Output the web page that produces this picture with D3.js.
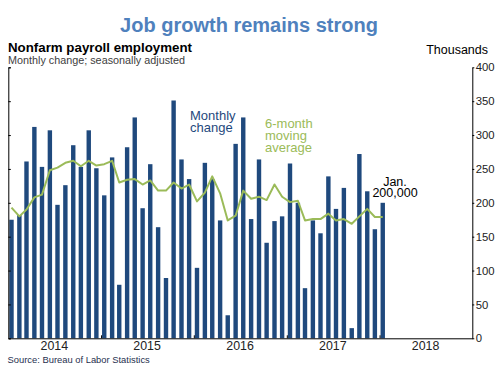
<!DOCTYPE html>
<html>

<head>
	<meta charset='utf-8' />
	<title></title>
	<script src="https://d3js.org/d3.v7.min.js"></script>
	<style>
		body {
			margin: 0;
			background: white;
		}

		svg {
			display: block;
			font-family: "Liberation Sans", Arial, sans-serif;
		}
	</style>
</head>

<body>

	<svg id="chart" width="500" height="365"></svg>

	<script>
		// monthly change in nonfarm payrolls, thousands, Jan 2014 - Jan 2018
		var payrolls = [175, 182, 261, 312, 253, 307, 197, 226, 285, 253, 307, 251,
			211, 267, 79, 282, 326, 192, 257, 164, 89, 351, 264, 235,
			104, 259, 235, 174, 34, 287, 326, 176, 264, 141, 173, 180,
			258, 200, 74, 174, 155, 239, 191, 222, 15, 272, 217, 161,
			200]

		// 6-month moving average
		var movingAvg = [193, 180, 190, 208, 212, 248, 252, 259, 262, 254, 262, 255,
			257, 262, 230, 234, 235, 227, 233, 218, 218, 230, 221, 227,
			202, 215, 239, 214, 174, 181, 218, 206, 209, 204, 227, 209,
			201, 203, 174, 176, 176, 184, 174, 176, 169, 180, 191, 179,
			179]

		var months = d3.timeMonth.range(new Date(2014, 0, 1), new Date(2018, 1, 1))
		var years = [2014, 2015, 2016, 2017, 2018]
		var yTicks = [0, 50, 100, 150, 200, 250, 300, 350, 400]

		var svg = d3.select("#chart"),
			margin = { top: 67.3, left: 8.3, bottom: 26.7, right: 27.7 },
			width = +svg.attr("width"),
			height = +svg.attr("height");

		var x = d3.scaleTime()
			.domain([new Date(2014, 0, 1), new Date(2019, 0, 1)])
			.range([margin.left, width - margin.right])

		var y = d3.scaleLinear()
			.domain([0, 400])
			.range([height - margin.bottom, margin.top])

		var barW = 4.4

		// bars
		svg.append("g")
			.attr("fill", "#1f497d")
			.selectAll("rect")
			.data(payrolls)
			.enter().append("rect")
			.attr("x", (d, i) => x(months[i]) + 1)
			.attr("width", barW)
			.attr("y", d => y(d))
			.attr("height", d => y(0) - y(d))

		// moving average line
		var line = d3.line()
			.x((d, i) => x(months[i]) + 1 + barW / 2)
			.y(d => y(d))

		svg.append("path")
			.datum(movingAvg)
			.attr("fill", "none")
			.attr("stroke", "#9bbb59")
			.attr("stroke-width", 2)
			.attr("stroke-linejoin", "round")
			.attr("d", line)

		// left axis: inward ticks, no labels
		svg.append("g")
			.attr("transform", `translate(${margin.left},0)`)
			.call(d3.axisRight(y).tickValues(yTicks).tickSize(2.5).tickFormat("").tickSizeOuter(2.5))
			.call(g => g.selectAll("path, line").attr("stroke", "#000"))

		// right axis with labels
		var yAxis = svg.append("g")
			.attr("transform", `translate(${width - margin.right},0)`)
			.call(d3.axisRight(y).tickValues(yTicks).tickSize(2).tickPadding(1.5).tickSizeOuter(0))

		yAxis.selectAll("path, line").attr("stroke", "#000")
		yAxis.selectAll("text")
			.attr("font-family", "Liberation Sans, Arial, sans-serif")
			.attr("font-size", 11.3)
			.attr("fill", "#222")

		// bottom axis: ticks at year starts pointing up
		var xAxis = svg.append("g")
			.attr("transform", `translate(0,${y(0)})`)
			.call(d3.axisTop(x).tickValues(years.slice(1).map(yr => new Date(yr, 0, 1)))
				.tickSize(3).tickFormat("").tickSizeOuter(0))
		xAxis.selectAll("path, line").attr("stroke", "#000")

		// year labels centred in each year
		svg.append("g")
			.selectAll("text")
			.data(years)
			.enter().append("text")
			.attr("x", d => x(new Date(d, 6, 1)))
			.attr("y", 350)
			.attr("text-anchor", "middle")
			.attr("font-size", 12.4)
			.attr("fill", "#222")
			.text(d => d)

		// titles
		svg.append("text")
			.attr("x", 249).attr("y", 31.5)
			.attr("text-anchor", "middle")
			.attr("font-size", 20)
			.attr("font-weight", "bold")
			.attr("fill", "#4f81bd")
			.text("Job growth remains strong")

		svg.append("text")
			.attr("x", 8).attr("y", 51.5)
			.attr("font-size", 13.3)
			.attr("font-weight", "bold")
			.attr("fill", "#000")
			.text("Nonfarm payroll employment")

		svg.append("text")
			.attr("x", 8).attr("y", 64)
			.attr("font-size", 10.8)
			.attr("fill", "#404040")
			.text("Monthly change; seasonally adjusted")

		svg.append("text")
			.attr("x", 488).attr("y", 53.5)
			.attr("text-anchor", "end")
			.attr("font-size", 12.5)
			.attr("fill", "#000")
			.text("Thousands")

		// annotations
		var ann1 = svg.append("text")
			.attr("font-size", 13)
			.attr("fill", "#1f497d")
		ann1.append("tspan").attr("x", 190).attr("y", 119.5).text("Monthly")
		ann1.append("tspan").attr("x", 190).attr("y", 131.5).text("change")

		var ann2 = svg.append("text")
			.attr("font-size", 13)
			.attr("fill", "#9bbb59")
		ann2.append("tspan").attr("x", 265).attr("y", 127.5).text("6-month")
		ann2.append("tspan").attr("x", 265).attr("y", 139.5).text("moving")
		ann2.append("tspan").attr("x", 265).attr("y", 151.5).text("average")

		var ann3 = svg.append("text")
			.attr("font-size", 12.5)
			.attr("text-anchor", "middle")
			.attr("fill", "#000")
		ann3.append("tspan").attr("x", 395).attr("y", 186).text("Jan.")
		ann3.append("tspan").attr("x", 395).attr("y", 197).text("200,000")

		svg.append("text")
			.attr("x", 7.5).attr("y", 362.5)
			.attr("font-size", 9.4)
			.attr("fill", "#1f2f4f")
			.text("Source: Bureau of Labor Statistics")

	</script>

</body>

</html>
